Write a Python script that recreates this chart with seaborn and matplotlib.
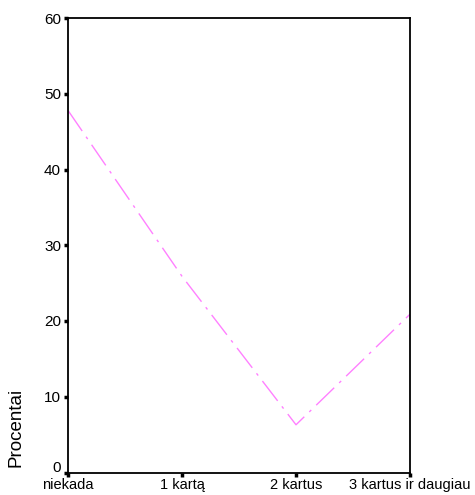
import matplotlib
matplotlib.use("Agg")
import matplotlib.pyplot as plt
import matplotlib.transforms as mtransforms
import seaborn as sns
import pandas as pd

categories = ["niekada", "1 kartą", "2 kartus", "3 kartus ir daugiau"]
values = [47.8, 25.9, 6.3, 20.9]
yticks = [0, 10, 20, 30, 40, 50, 60]

sns.set_theme(style="white")
plt.rcParams['font.family'] = ['Liberation Sans', 'DejaVu Sans']
plt.rcParams['text.color'] = 'black'
plt.rcParams['axes.labelcolor'] = 'black'
plt.rcParams['xtick.color'] = 'black'
plt.rcParams['ytick.color'] = 'black'

df = pd.DataFrame({"cat": categories, "val": values, "x": range(len(categories))})

fig = plt.figure(figsize=(4.75, 4.95), dpi=100)
ax = fig.add_axes([68/475, 1 - 472.5/495, (410-68)/475, (472.5-18)/495])

sns.lineplot(data=df, x="x", y="val", ax=ax, color="#ff80ff", linewidth=1.0,
             linestyle=(0, (18, 5, 2, 5)), sort=False)

ax.set_xlim(0, 3)
ax.set_ylim(0, 60)
ax.set_xticks(range(len(categories)))
ax.set_xticklabels(categories, fontsize=10.5)
ax.set_yticks(yticks)
ax.set_yticklabels([str(t) for t in yticks], fontsize=11)
ax.set_xlabel("")
ax.set_ylabel("Procentai", fontsize=13.5, color="black")
ax.yaxis.set_label_coords(-0.126, 0.1)

for s in ax.spines.values():
    s.set_visible(True)
    s.set_color("black")
    s.set_linewidth(1.3)

ax.tick_params(axis="both", which="major", direction="out", length=3, width=2.5,
               color="black", labelcolor="black", pad=2, bottom=True, left=True)
ax.tick_params(axis="x", pad=1)
ax.grid(False)

# lift the "0" label slightly above the axis, as in the reference
zero_lbl = ax.get_yticklabels()[0]
zero_lbl.set_transform(zero_lbl.get_transform() +
                       mtransforms.ScaledTranslation(0, 6/100, fig.dpi_scale_trans))

fig.savefig("out.png", dpi=100)
